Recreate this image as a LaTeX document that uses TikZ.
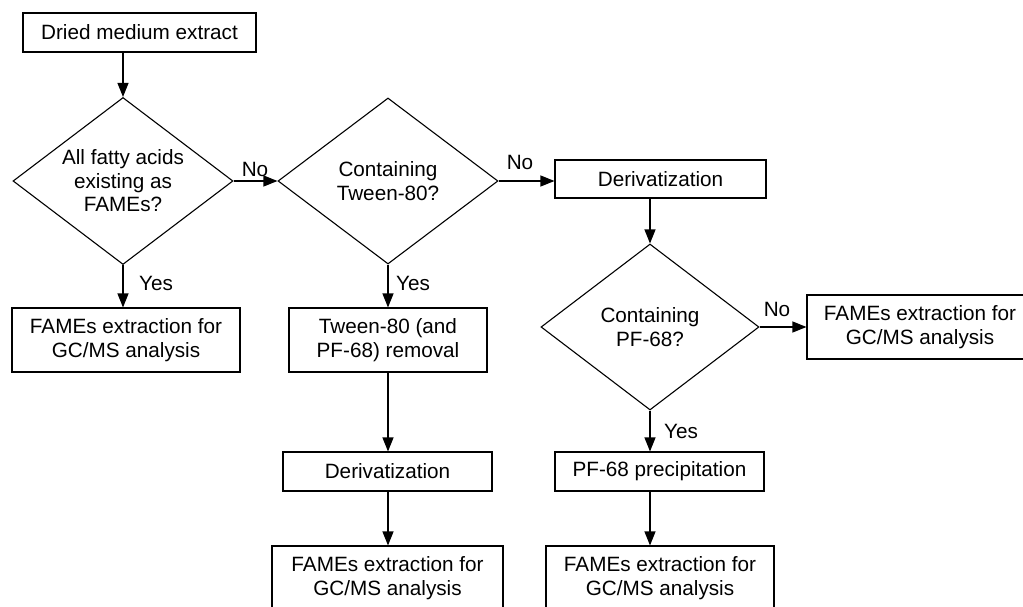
\documentclass[tikz,border=0pt]{standalone}
\usepackage{fontspec}
\setmainfont{Liberation Sans}
\usetikzlibrary{shapes.geometric,arrows.meta}
\begin{document}
\begin{tikzpicture}[x=1pt,y=-1pt,
  every node/.style={font=\fontsize{20.7}{23.5}\selectfont},
  box/.style={draw,line width=1.1pt,inner sep=0pt,align=center,rectangle},
  dec/.style={draw,line width=1.1pt,diamond,inner sep=0pt,align=center,shape aspect=1.32},
  arr/.style={line width=1.1pt,-{Triangle[length=14pt,width=11pt]}},
  lbl/.style={inner sep=0pt}]
\useasboundingbox (0,0) rectangle (1023,607);
\clip (0,0) rectangle (1023,607);
\node[box,minimum width=233pt,minimum height=39pt] (start) at (139.5,32.5) {Dried medium extract};
\node[dec,minimum width=220pt,minimum height=167pt] (d1) at (123,181) {All fatty acids\\existing as\\FAMEs?};
\node[dec,minimum width=220pt,minimum height=166pt] (d2) at (388,181) {Containing\\Tween-80?};
\node[box,minimum width=211pt,minimum height=38pt] (der1) at (660.5,179) {Derivatization};
\node[dec,minimum width=218pt,minimum height=166pt] (d3) at (650,327) {Containing\\PF-68?};
\node[box,minimum width=226pt,minimum height=64pt] (famr) at (920,327) {FAMEs extraction for\\GC/MS analysis};
\node[box,minimum width=228pt,minimum height=64pt] (faml) at (126,340) {FAMEs extraction for\\GC/MS analysis};
\node[box,minimum width=198pt,minimum height=64pt] (tween) at (388,340) {Tween-80 (and\\PF-68) removal};
\node[box,minimum width=209pt,minimum height=39pt] (der2) at (387.5,471.5) {Derivatization};
\node[box,minimum width=231pt,minimum height=64pt] (famm) at (387.5,578) {FAMEs extraction for\\GC/MS analysis};
\node[box,minimum width=209pt,minimum height=39pt] (pf) at (659.5,471.5) {PF-68 precipitation};
\node[box,minimum width=228pt,minimum height=64pt] (fambr) at (660,578) {FAMEs extraction for\\GC/MS analysis};
% connectors
\draw[arr] (start.south -| d1.north) -- (d1.north);
\draw[arr] (d1.east) -- (d2.west);
\draw[arr] (d2.east) -- (d2.east -| der1.west);
\draw[arr] (der1.south -| d3.north) -- (d3.north);
\draw[arr] (d3.east) -- (d3.east -| famr.west);
\draw[arr] (d1.south) -- (faml.north -| d1.south);
\draw[arr] (d2.south) -- (tween.north -| d2.south);
\draw[arr] (tween.south -| d2.south) -- (der2.north -| d2.south);
\draw[arr] (der2.south -| d2.south) -- (famm.north -| d2.south);
\draw[arr] (d3.south) -- (pf.north -| d3.south);
\draw[arr] (pf.south -| d3.south) -- (fambr.north -| d3.south);
% labels
\node[lbl,anchor=base] (no1) at (255,177) {No};
\node[lbl,anchor=base] (no2) at (520,170) {No};
\node[lbl,anchor=base] (no3) at (777,316) {No};
\node[lbl,anchor=base west] (yes1) at (139,290) {Yes};
\node[lbl,anchor=base west] (yes2) at (396,290) {Yes};
\node[lbl,anchor=base west] (yes3) at (664,438) {Yes};
\end{tikzpicture}
\end{document}
